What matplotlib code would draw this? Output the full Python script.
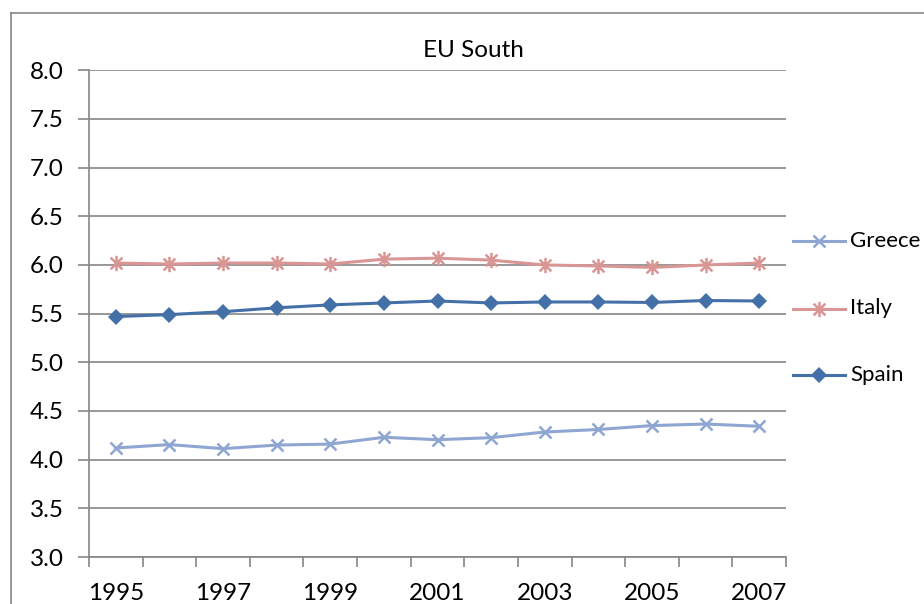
"""
EU South line chart (Greece, Italy, Spain), Excel-like styling.
"""
import matplotlib
matplotlib.use('Agg')
import matplotlib.pyplot as plt
from matplotlib.lines import Line2D
from matplotlib.path import Path

years = list(range(1995, 2008))
greece = [4.12, 4.155, 4.113, 4.15, 4.16, 4.23, 4.205, 4.226, 4.284, 4.31, 4.35, 4.366, 4.343]
italy = [6.02, 6.01, 6.02, 6.02, 6.01, 6.06, 6.07, 6.05, 6.00, 5.99, 5.975, 6.00, 6.02]
spain = [5.47, 5.49, 5.52, 5.56, 5.59, 5.61, 5.63, 5.61, 5.62, 5.62, 5.615, 5.635, 5.63]
yticks = [3.0, 3.5, 4.0, 4.5, 5.0, 5.5, 6.0, 6.5, 7.0, 7.5, 8.0]
title = 'EU South'

plt.rcParams['font.family'] = ['Lato', 'DejaVu Sans']
FS = 17.5
LEG_FS = 16
GRID = '#868686'

# asterisk marker: x plus vertical bar
star = Path([(-1, -1), (1, 1), (-1, 1), (1, -1), (0, -1.3), (0, 1.3)],
            [Path.MOVETO, Path.LINETO, Path.MOVETO, Path.LINETO, Path.MOVETO, Path.LINETO])

series = [
    ('Greece', greece, dict(color='#8EA6D1', marker='x', ms=8, mew=1.8)),
    ('Italy', italy, dict(color='#D99694', marker=star, ms=11, mew=1.8)),
    ('Spain', spain, dict(color='#4470A8', marker='D', ms=8.5, mew=0)),
]

W, H = 924, 604
fig = plt.figure(figsize=(W / 100, H / 100), dpi=100)
ax = fig.add_axes([89 / W, 1 - 557 / H, (786 - 89) / W, (557 - 70.3) / H])

x = list(range(len(years)))
for name, vals, st in series:
    ax.plot(x, vals, lw=2.2, zorder=3, **st)

ax.set_xlim(-0.5, len(years) - 0.5)
ax.set_ylim(3.0, 8.0)
ax.set_yticks(yticks)
ax.set_yticklabels(['{:.1f}'.format(v) for v in yticks], fontsize=FS)
ax.yaxis.grid(True, color=GRID, lw=1.2)
ax.set_axisbelow(True)

ax.set_xticks(x[::2])
ax.set_xticklabels([str(y) for y in years[::2]], fontsize=FS)
ax.set_xticks([i - 0.5 for i in range(len(years) + 1)], minor=True)
ax.tick_params(axis='x', which='major', length=0, pad=18.5)
ax.tick_params(axis='x', which='minor', length=7, width=1.2, color=GRID, direction='out')
ax.tick_params(axis='y', length=8, width=1.2, color=GRID, pad=10)

for s in ['top', 'right']:
    ax.spines[s].set_visible(False)
for s in ['left', 'bottom']:
    ax.spines[s].set_color(GRID)
    ax.spines[s].set_linewidth(1.2)

# chart border (right/bottom edges fall outside the image)
fig.add_artist(Line2D([10.5 / W, 10.5 / W], [1 - 12.5 / H, 0], transform=fig.transFigure,
                      color=GRID, lw=1.2))
fig.add_artist(Line2D([10.5 / W, 1], [1 - 12.5 / H, 1 - 12.5 / H], transform=fig.transFigure,
                      color=GRID, lw=1.2))

fig.text(473 / W, 1 - 57 / H, title, ha='center', va='baseline', fontsize=FS)

# legend drawn by hand
legend_y = [241, 308.5, 375]
for (name, vals, st), ly in zip(series, legend_y):
    yy = 1 - ly / H
    fig.add_artist(Line2D([793 / W, 819 / W, 845 / W], [yy, yy, yy], transform=fig.transFigure,
                          lw=2.2, markevery=[1], **st))
    fig.text(850 / W, yy, name, ha='left', va='center', fontsize=LEG_FS)

fig.savefig('out.png', dpi=100)
